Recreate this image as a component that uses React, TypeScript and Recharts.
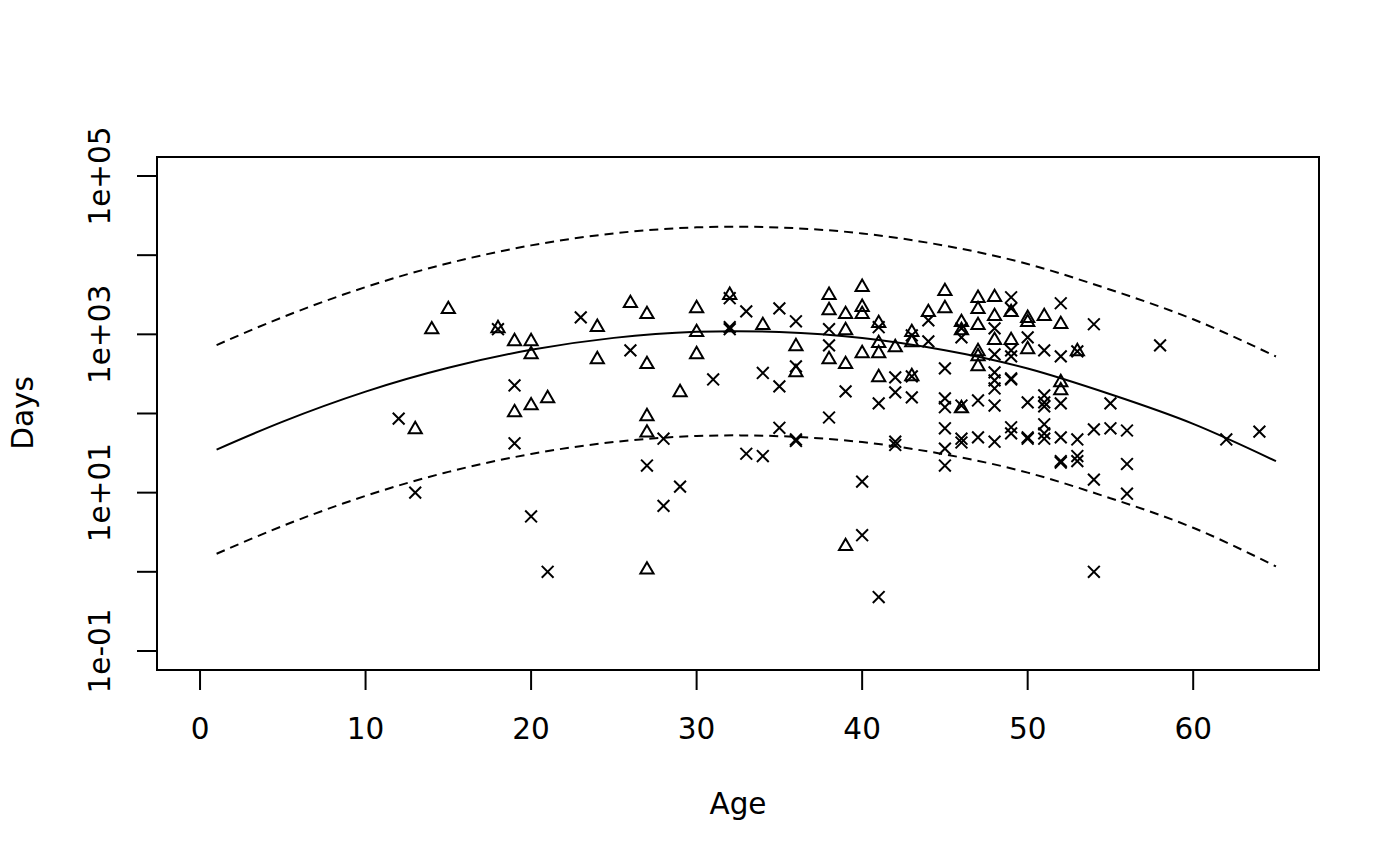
import React from 'react';
import {
  ComposedChart,
  XAxis,
  YAxis,
  Scatter,
  Line,
  ReferenceArea,
} from 'recharts';

// axis setup (R style: 4% padding around the data range)
const X_MIN = -2.6;
const X_MAX = 67.6;
const Y_MIN = 0.0575;
const Y_MAX = 173800;

const xTicks = [0, 10, 20, 30, 40, 50, 60];
const yTicks = [0.1, 1, 10, 100, 1000, 10000, 100000];
const yTickLabels: Record<string, string> = {
  '0.1': '1e-01',
  '10': '1e+01',
  '1000': '1e+03',
  '100000': '1e+05',
};

// fitted curve and its bands
const fitAges = [1, 5, 10, 15, 20, 25, 30, 35, 40, 45, 50, 55, 60, 65];
const fitDays = [35, 79, 189, 378, 637, 902, 1074, 1070, 900, 630, 370, 175, 74, 25];
const upperDays = [
  732, 1650, 3950, 7900, 13300, 18850, 22450, 22360, 18800, 13170, 7730, 3660, 1550, 525,
];
const lowerDays = [1.69, 3.8, 9.1, 18.3, 30.8, 43.6, 51.9, 51.7, 43.5, 30.4, 17.9, 8.5, 3.6, 1.17];

// open triangles
const triangleAges = [
  13, 14, 15, 18, 19, 19, 20, 20, 20, 21, 24, 24, 26, 27, 27, 27, 27, 27, 29, 30, 30, 30, 32,
  34, 36, 36, 38, 38, 38, 39, 39, 39, 39, 40, 40, 40, 40, 41, 41, 41, 41, 42, 43, 43, 43, 44,
  45, 45, 46, 46, 46, 47, 47, 47, 47, 47, 47, 48, 48, 48, 49, 49, 50, 50, 50, 51, 52, 52, 52,
  53,
];
const triangleDays = [
  63, 1150, 2070, 1190, 815, 103, 815, 558, 126, 155, 1230, 483, 2470, 1790, 418, 92, 57, 1.06,
  185, 2130, 1060, 558, 3120, 1300, 705, 331, 3120, 2010, 483, 1790, 1120, 418, 2.1, 3940, 2200,
  1790, 575, 1380, 770, 575, 286, 685, 1060, 792, 294, 1900, 3500, 2130, 1420, 1120, 116, 2860,
  2070, 1300, 609, 527, 394, 2940, 1690, 840, 1900, 840, 1600, 1420, 646, 1690, 1340, 247, 195,
  609,
];

// crosses
const crossAges = [
  12, 13, 18, 19, 19, 20, 21, 23, 26, 27, 28, 28, 29, 31, 32, 32, 32, 33, 33, 34, 34, 35, 35,
  35, 36, 36, 36, 36, 38, 38, 38, 39, 40, 40, 41, 41, 41, 42, 42, 42, 42, 43, 43, 43, 44, 44,
  45, 45, 45, 45, 45, 45, 46, 46, 46, 46, 46, 47, 47, 48, 48, 48, 48, 48, 48, 48, 49, 49, 49,
  49, 49, 49, 49, 49, 50, 50, 50, 50, 51, 51, 51, 51, 51, 51, 51, 52, 52, 52, 52, 52, 52, 53,
  53, 53, 53, 54, 54, 54, 54, 55, 55, 56, 56, 56, 58, 62, 64,
];
const crossDays = [
  86, 10, 1160, 226, 42, 5, 1, 1640, 627, 22, 48, 6.8, 11.9, 269, 2860, 1230, 1160, 1950, 31,
  325, 29, 2130, 220, 66, 1460, 394, 47, 45, 1160, 726, 89, 190, 13.8, 2.9, 1230, 134, 0.48,
  286, 185, 44, 40, 970, 294, 160, 1500, 815, 372, 155, 120, 65, 36, 22, 1190, 916, 126, 48,
  43, 146, 50, 1190, 558, 331, 262, 207, 126, 44, 2940, 2130, 627, 527, 277, 269, 67, 56, 916,
  138, 50, 48, 627, 169, 138, 123, 73, 56, 48, 2470, 527, 134, 50, 25, 24, 609, 47, 29, 25,
  1340, 63, 14.6, 1, 134, 65, 61, 23, 9.7, 726, 47, 59,
];

const FONT = '"DejaVu Sans", sans-serif';
const FONT_SIZE = 29.5;

const fitData = fitAges.map((age, i) => ({ age, days: fitDays[i] }));
const upperData = fitAges.map((age, i) => ({ age, days: upperDays[i] }));
const lowerData = fitAges.map((age, i) => ({ age, days: lowerDays[i] }));
const triangleData = triangleAges.map((age, i) => ({ age, days: triangleDays[i] }));
const crossData = crossAges.map((age, i) => ({ age, days: crossDays[i] }));

const Triangle = (props: any) => {
  const { cx, cy } = props;
  if (cx == null || cy == null) return <g />;
  const d = `M${cx},${cy - 7.6} L${cx + 6.6},${cy + 3.8} L${cx - 6.6},${cy + 3.8} Z`;
  return <path d={d} fill="none" stroke="#000" strokeWidth={2} />;
};

const Cross = (props: any) => {
  const { cx, cy } = props;
  if (cx == null || cy == null) return <g />;
  const r = 5.9;
  const d = `M${cx - r},${cy - r} L${cx + r},${cy + r} M${cx - r},${cy + r} L${cx + r},${cy - r}`;
  return <path d={d} fill="none" stroke="#000" strokeWidth={2} />;
};

const XTick = (props: any) => {
  const { x, y, payload } = props;
  return (
    <text x={x} y={y + 49} textAnchor="middle" fontFamily={FONT} fontSize={FONT_SIZE} fill="#000">
      {payload.value}
    </text>
  );
};

const YTick = (props: any) => {
  const { x, y, payload } = props;
  const label = yTickLabels[String(payload.value)];
  if (!label) return <g />;
  const bx = x - 27;
  return (
    <text
      x={bx}
      y={y}
      transform={`rotate(-90, ${bx}, ${y})`}
      textAnchor="middle"
      fontFamily={FONT}
      fontSize={FONT_SIZE}
      fill="#000"
    >
      {label}
    </text>
  );
};

const AgeLabel = () => (
  <text x={738} y={814} textAnchor="middle" fontFamily={FONT} fontSize={FONT_SIZE} fill="#000">
    Age
  </text>
);

const DaysLabel = () => (
  <text
    x={33}
    y={413}
    transform="rotate(-90, 33, 413)"
    textAnchor="middle"
    fontFamily={FONT}
    fontSize={FONT_SIZE}
    fill="#000"
  >
    Days
  </text>
);

export default function App() {
  return (
    <div style={{ position: 'absolute', left: 0, top: 0, width: 1400, height: 866, background: '#fff' }}>
      <ComposedChart width={1400} height={866} margin={{ top: 157, right: 81, bottom: 0, left: 0 }}>
        <XAxis
          type="number"
          dataKey="age"
          domain={[X_MIN, X_MAX]}
          ticks={xTicks}
          allowDataOverflow
          height={196}
          tickSize={20}
          tickMargin={0}
          axisLine={false}
          tickLine={{ stroke: '#000', strokeWidth: 2 }}
          tick={<XTick />}
          label={AgeLabel}
          interval={0}
        />
        <YAxis
          type="number"
          dataKey="days"
          scale="log"
          domain={[Y_MIN, Y_MAX]}
          ticks={yTicks}
          allowDataOverflow
          width={157}
          tickSize={20}
          tickMargin={0}
          axisLine={false}
          tickLine={{ stroke: '#000', strokeWidth: 2 }}
          tick={<YTick />}
          label={DaysLabel}
          interval={0}
        />
        <ReferenceArea
          x1={X_MIN}
          x2={X_MAX}
          y1={Y_MIN}
          y2={Y_MAX}
          fill="none"
          fillOpacity={0}
          stroke="#000"
          strokeWidth={2}
          ifOverflow="visible"
        />
        <Line
          data={upperData}
          dataKey="days"
          type="natural"
          stroke="#000"
          strokeWidth={2}
          strokeDasharray="9 6"
          dot={false}
          activeDot={false}
          isAnimationActive={false}
        />
        <Line
          data={fitData}
          dataKey="days"
          type="natural"
          stroke="#000"
          strokeWidth={2}
          dot={false}
          activeDot={false}
          isAnimationActive={false}
        />
        <Line
          data={lowerData}
          dataKey="days"
          type="natural"
          stroke="#000"
          strokeWidth={2}
          strokeDasharray="9 6"
          dot={false}
          activeDot={false}
          isAnimationActive={false}
        />
        <Scatter data={triangleData} dataKey="days" shape={<Triangle />} isAnimationActive={false} />
        <Scatter data={crossData} dataKey="days" shape={<Cross />} isAnimationActive={false} />
      </ComposedChart>
    </div>
  );
}
